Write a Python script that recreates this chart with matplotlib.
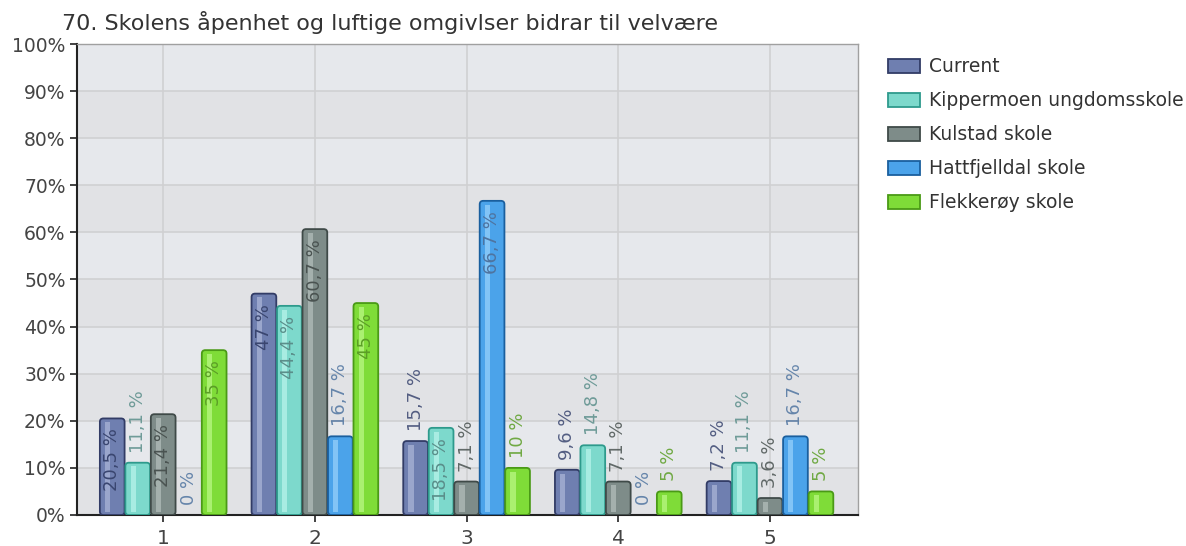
import matplotlib
matplotlib.use("Agg")
import matplotlib.pyplot as plt
from matplotlib.patches import FancyBboxPatch, Patch
import numpy as np

plt.rcParams['font.family'] = ['DejaVu Sans']

title = "70. Skolens åpenhet og luftige omgivlser bidrar til velvære"
categories = ["1", "2", "3", "4", "5"]
series_names = ["Current", "Kippermoen ungdomsskole", "Kulstad skole",
                "Hattfjelldal skole", "Flekkerøy skole"]
current = [20.5, 47, 15.7, 9.6, 7.2]
kippermoen = [11.1, 44.4, 18.5, 14.8, 11.1]
kulstad = [21.4, 60.7, 7.1, 7.1, 3.6]
hattfjelldal = [0, 16.7, 66.7, 0, 16.7]
flekkeroy = [35, 45, 10, 5, 5]
yticks = [0, 10, 20, 30, 40, 50, 60, 70, 80, 90, 100]

all_series = [current, kippermoen, kulstad, hattfjelldal, flekkeroy]
fills = ["#6f7fb0", "#7dd9cc", "#7e8c89", "#4ba3ea", "#7fdc38"]
highlights = ["#9aa6cc", "#a8ece2", "#a4b0ad", "#82c4f6", "#aaf070"]
edges = ["#323c66", "#2e9a8c", "#3f4a48", "#1a5f9e", "#4a9a16"]
label_colors = ["#3a4670", "#5a8e8a", "#4a5351", "#4f74a0", "#5b9e26"]

fig = plt.figure(figsize=(11.86, 5.46), dpi=100)
ax = fig.add_axes([0.0647, 0.0568, 0.7234 - 0.0647, 0.9194 - 0.0568])

ax.set_xlim(0.43, 5.58)
ax.set_ylim(0, 100)

# alternating background bands
for i in range(10):
    ax.axhspan(i * 10, (i + 1) * 10, color="#e6e8ec" if i % 2 == 1 else "#e1e2e5",
               zorder=0, lw=0)

x = np.arange(1, len(categories) + 1)
ax.set_xticks(x)
ax.set_xticklabels(categories)
ax.set_yticks(yticks)
ax.set_yticklabels([f"{v}%" for v in yticks])
ax.grid(True, color="#d0d0d2", lw=1.2, zorder=1)
ax.set_axisbelow(True)

# data units per pixel for rounded corners
xpp = (5.58 - 0.43) / 781.0
ypp = 100.0 / 471.0
asp = ypp / xpp
rad = 3.5 * xpp

w = 0.168
for i, (vals, name) in enumerate(zip(all_series, series_names)):
    pos = x + (i - 2) * w
    cont = ax.bar(pos, vals, width=w * 0.97, color=fills[i], edgecolor=edges[i],
                  linewidth=1.3, zorder=3)
    hl = ax.bar(pos - w * 0.18, vals, width=w * 0.2, color=highlights[i],
                linewidth=0, zorder=4)
    for rect in cont.patches:
        h = rect.get_height()
        if h > 0:
            fb = FancyBboxPatch((rect.get_x(), rect.get_y()), rect.get_width(), h,
                                boxstyle=f"round,pad=0,rounding_size={rad}",
                                mutation_aspect=asp, facecolor=fills[i],
                                edgecolor=edges[i], linewidth=1.3, zorder=3)
            ax.add_patch(fb)
        rect.set_visible(False)
    for rect in hl.patches:
        h = rect.get_height()
        if h > 1.5:
            rect.set_y(rect.get_y() + 0.6)
            rect.set_height(h - 1.4)
        else:
            rect.set_visible(False)
    for p, v in zip(pos, vals):
        txt = (f"{v:g}".replace(".", ",")) + " %"
        if v >= 18:
            ax.annotate(txt, (p, v), xytext=(0, -10), textcoords="offset pixels",
                        rotation=90, ha="center", va="top", fontsize=13,
                        color=label_colors[i], zorder=6)
        else:
            ax.annotate(txt, (p, v), xytext=(0, 10), textcoords="offset pixels",
                        rotation=90, ha="center", va="bottom", fontsize=13,
                        color=label_colors[i], alpha=0.85, zorder=6)

for s in ["top", "right"]:
    ax.spines[s].set_color("#a0a0a0")
    ax.spines[s].set_linewidth(1)
for s in ["left", "bottom"]:
    ax.spines[s].set_color("#222222")
    ax.spines[s].set_linewidth(1.5)
ax.tick_params(axis="both", colors="#222222", labelcolor="#444444",
               length=5, width=1.2)
ax.tick_params(axis="y", labelsize=13.5, pad=3)
ax.tick_params(axis="x", labelsize=14.5, pad=5)

fig.text(0.0523, 0.958, title, fontsize=16, color="#333333", ha="left", va="center")

proxies = [Patch(facecolor=f, edgecolor=e, linewidth=1.3) for f, e in zip(fills, edges)]
leg = ax.legend(proxies, series_names, loc="upper left", bbox_to_anchor=(1.038, 0.972),
                frameon=False, fontsize=13.5, handlelength=1.75, handleheight=0.8,
                labelspacing=0.8, handletextpad=0.45, borderaxespad=0,
                borderpad=0)
for t in leg.get_texts():
    t.set_color("#333333")

fig.savefig("out.png", dpi=100)
